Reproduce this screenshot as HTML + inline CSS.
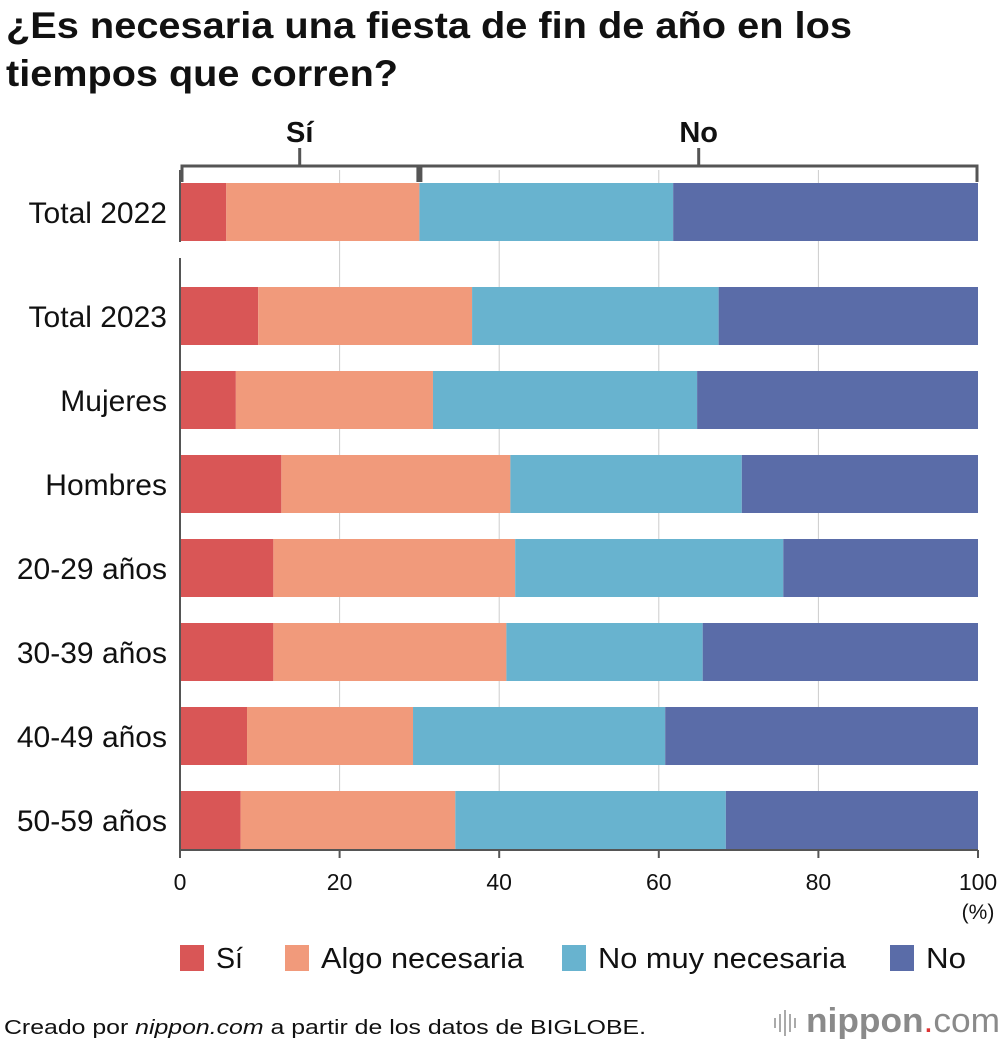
<!DOCTYPE html>
<html><head><meta charset="utf-8"><style>
body{margin:0;background:#fff;font-family:"Liberation Sans",Arial,sans-serif;}
svg text{font-family:"Liberation Sans",Arial,sans-serif;}
</style></head><body>
<svg width="1000" height="1044" viewBox="0 0 1000 1044" xmlns="http://www.w3.org/2000/svg">
<text x="6" y="38" font-size="37" font-weight="bold" fill="#111" textLength="846" lengthAdjust="spacingAndGlyphs">¿Es necesaria una fiesta de fin de año en los</text>
<text x="6" y="86" font-size="37" font-weight="bold" fill="#111" textLength="392" lengthAdjust="spacingAndGlyphs">tiempos que corren?</text>
<g id="grid"></g>
<g id="bars"></g>
<g id="axes"></g>
<g id="legend"></g>
<text x="4" y="1034" font-size="20" fill="#111" textLength="642" lengthAdjust="spacingAndGlyphs">Creado por <tspan font-style="italic">nippon.com</tspan> a partir de los datos de BIGLOBE.</text>
<g fill="#aaa">
<rect x="774" y="1018" width="2" height="10"/><rect x="779" y="1014" width="2" height="18"/><rect x="784" y="1010" width="2" height="26"/><rect x="789" y="1014" width="2" height="18"/><rect x="794" y="1018" width="2" height="10"/>
</g>
<text x="806" y="1032" font-size="34" fill="#8a8a8a" textLength="194" lengthAdjust="spacingAndGlyphs"><tspan font-weight="bold">nippon</tspan><tspan fill="#d33">.</tspan>com</text>
</svg>
<script>
const categories=["Total 2022","Total 2023","Mujeres","Hombres","20-29 años","30-39 años","40-49 años","50-59 años"];
const si=[5.8,9.8,7.0,12.7,11.7,11.7,8.4,7.6];
const algo=[24.2,26.8,24.7,28.7,30.3,29.2,20.8,26.9];
const noMuy=[31.8,30.9,33.1,29.0,33.6,24.6,31.6,33.9];
const no=[38.2,32.5,35.2,29.6,24.4,34.5,39.2,31.6];
const ticks=[0,20,40,60,80,100];
const seriesNames=["Sí","Algo necesaria","No muy necesaria","No"];
const colors=["#d95656","#f19a7b","#68b3cf","#5a6ca8"];
const NS="http://www.w3.org/2000/svg";
const x0=180,x1=978;
const xs=v=>x0+(x1-x0)*v/100;
const ys=i=>i===0?183:287+(i-1)*84;
const bh=58;
function mk(tag,attrs,parent,text){const e=document.createElementNS(NS,tag);for(const k in attrs)e.setAttribute(k,attrs[k]);if(text!==undefined)e.textContent=text;document.getElementById(parent).appendChild(e);return e;}
ticks.forEach(t=>{if(t===0||t===100)return;
 let g=mk('line',{x1:xs(t),x2:xs(t),y1:170,y2:850,stroke:'#ccc','stroke-width':1},'grid');
 
 });
const series=[si,algo,noMuy,no];
categories.forEach((c,i)=>{let acc=0;
 series.forEach((s,j)=>{const r=mk('rect',{x:xs(acc),y:ys(i),width:xs(acc+s[i])-xs(acc),height:bh,fill:colors[j]},'bars');
  
  
  acc+=s[i];});
 const l=mk('text',{x:167,y:ys(i)+bh/2+11,'font-size':30,'text-anchor':'end',fill:'#111'},'axes',c);
 
 
});
let a=mk('line',{x1:x0,x2:x0,y1:170,y2:242,stroke:'#555','stroke-width':2},'axes');

a=mk('line',{x1:x0,x2:x0,y1:258,y2:851,stroke:'#555','stroke-width':2},'axes');

a=mk('line',{x1:x0,x2:x1,y1:850,y2:850,stroke:'#555','stroke-width':2},'axes');

ticks.forEach(t=>{const tk=mk('line',{x1:xs(t),x2:xs(t),y1:850,y2:858,stroke:'#555','stroke-width':2},'axes');
 
 const tl=mk('text',{x:xs(t),y:890,'font-size':23,'text-anchor':'middle',fill:'#111'},'axes',String(t));
 });
a=mk('text',{x:978,y:919,'font-size':21,'text-anchor':'middle',fill:'#111'},'axes','(%)');

const split=xs(si[0]+algo[0]);
a=mk('path',{d:`M${x0+2},182 V166 H${x1-1} V182`,stroke:'#555','stroke-width':3,fill:'none'},'axes');

a=mk('line',{x1:split,x2:split,y1:166,y2:182,stroke:'#555','stroke-width':6},'axes');

[[ (x0+split)/2,'Sí'],[(split+x1)/2,'No']].forEach(([x,t])=>{
 const tk=mk('line',{x1:x,x2:x,y1:148,y2:166,stroke:'#555','stroke-width':3},'axes');
 
 const tl=mk('text',{x:x,y:142,'font-size':29,'font-weight':'bold','text-anchor':'middle',fill:'#111'},'axes',t);
 });
const lx=[180,285,562,890];
const lw=[27,203,248,40];
seriesNames.forEach((n,j)=>{const r=mk('rect',{x:lx[j],y:945,width:24,height:26,fill:colors[j]},'legend');
 
 const t=mk('text',{x:lx[j]+36,y:968,'font-size':29,fill:'#111',textLength:lw[j],lengthAdjust:'spacingAndGlyphs'},'legend',n);
 });
</script>
</body></html>
